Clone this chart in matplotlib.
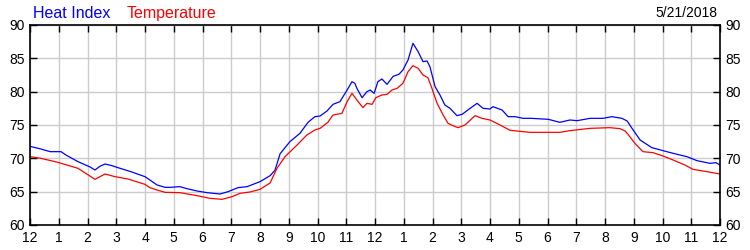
import matplotlib
matplotlib.use("Agg")
import matplotlib.pyplot as plt

plt.rcParams['font.family'] = ['Liberation Sans', 'DejaVu Sans']

# hours since midnight -> readings (deg F)
hi_hours = [0.0, 0.38, 0.70, 1.08, 1.25, 1.67, 2.09, 2.26, 2.43, 2.61, 2.85,
            3.06, 3.51, 4.0, 4.17, 4.42, 4.70, 4.87, 5.22, 5.46, 5.81, 6.16,
            6.61, 6.89, 7.23, 7.55, 8.0, 8.35, 8.52, 8.70, 9.04, 9.39, 9.67,
            9.91, 10.09, 10.33, 10.54, 10.78, 11.03, 11.20, 11.30, 11.37,
            11.55, 11.72, 11.83, 11.97, 12.10, 12.24, 12.42, 12.63, 12.83,
            12.97, 13.15, 13.32, 13.50, 13.67, 13.81, 13.91, 14.09, 14.26,
            14.43, 14.61, 14.85, 15.03, 15.23, 15.55, 15.76, 16.0, 16.10,
            16.42, 16.63, 16.87, 17.15, 17.44, 18.03, 18.43, 18.78, 19.03,
            19.48, 19.93, 20.24, 20.59, 20.77, 20.94, 21.22, 21.63, 22.02,
            22.37, 22.85, 23.20, 23.65, 23.86, 24.0]
hi_vals = [71.8, 71.4, 71.0, 71.0, 70.5, 69.5, 68.7, 68.25, 68.8, 69.15, 68.9,
           68.6, 68.0, 67.25, 66.75, 66.0, 65.65, 65.65, 65.75, 65.45, 65.1,
           64.85, 64.65, 65.0, 65.6, 65.75, 66.5, 67.4, 68.2, 70.7, 72.5,
           73.75, 75.4, 76.25, 76.35, 77.1, 78.1, 78.5, 80.25, 81.5, 81.25,
           80.5, 79.1, 80.0, 80.25, 79.75, 81.5, 81.9, 81.1, 82.3, 82.6,
           83.25, 84.75, 87.25, 86.0, 84.5, 84.6, 83.75, 80.75, 79.5, 78.0,
           77.5, 76.4, 76.6, 77.25, 78.25, 77.5, 77.4, 77.75, 77.25, 76.25,
           76.25, 76.0, 76.0, 75.85, 75.4, 75.75, 75.65, 76.0, 76.0, 76.25,
           76.0, 75.6, 74.5, 72.75, 71.6, 71.15, 70.75, 70.25, 69.65, 69.25,
           69.35, 69.0]

temp_hours = [0.0, 0.38, 0.97, 1.67, 2.26, 2.61, 2.96, 3.41, 4.0, 4.17, 4.42,
              4.70, 5.22, 5.81, 6.26, 6.68, 7.03, 7.30, 7.65, 8.0, 8.35, 8.59,
              8.87, 9.29, 9.63, 9.91, 10.09, 10.36, 10.54, 10.85, 11.03, 11.20,
              11.37, 11.58, 11.72, 11.90, 12.03, 12.24, 12.42, 12.59, 12.77,
              12.97, 13.15, 13.32, 13.50, 13.67, 13.84, 13.98, 14.16, 14.37,
              14.54, 14.71, 14.89, 15.13, 15.48, 15.72, 16.0, 16.35, 16.70,
              17.39, 18.43, 18.78, 19.48, 20.17, 20.52, 20.70, 20.80, 21.04,
              21.32, 21.67, 22.02, 22.37, 22.78, 23.06, 23.55, 24.0]
temp_vals = [70.25, 70.0, 69.4, 68.5, 66.85, 67.65, 67.25, 66.9, 66.1, 65.6,
             65.25, 64.9, 64.85, 64.4, 64.0, 63.85, 64.25, 64.75, 64.95,
             65.35, 66.3, 68.5, 70.25, 72.0, 73.5, 74.25, 74.5, 75.4, 76.5,
             76.75, 78.5, 79.75, 78.75, 77.6, 78.25, 78.1, 79.1, 79.5, 79.6,
             80.25, 80.5, 81.25, 83.0, 83.9, 83.5, 82.5, 82.1, 80.5, 78.25,
             76.5, 75.25, 74.9, 74.6, 75.0, 76.4, 76.0, 75.75, 75.0, 74.2,
             73.9, 73.9, 74.15, 74.5, 74.6, 74.45, 74.1, 73.6, 72.25, 71.0,
             70.85, 70.35, 69.75, 69.0, 68.35, 68.0, 67.65]

hour_labels = ['12', '1', '2', '3', '4', '5', '6', '7', '8', '9', '10', '11',
               '12', '1', '2', '3', '4', '5', '6', '7', '8', '9', '10', '11', '12']
y_ticks = [60, 65, 70, 75, 80, 85, 90]
date_text = '5/21/2018'

fig = plt.figure(figsize=(7.5, 2.5), dpi=100)
ax = fig.add_axes([0.04, 0.10, 0.92, 0.80])

ax.plot(hi_hours, hi_vals, color='#0000ff', lw=0.9)
ax.plot(temp_hours, temp_vals, color='#ff0000', lw=0.9)

ax.set_xlim(0, 24)
ax.set_ylim(60, 90)
ax.set_xticks(range(25))
ax.set_xticklabels(hour_labels)
ax.set_yticks(y_ticks)
ax.grid(True, color='#cccccc', lw=1.0)
ax.set_axisbelow(True)
ax.tick_params(direction='in', length=5, width=1, labelsize=10,
               top=True, right=True, labelright=True, pad=4)
for s in ax.spines.values():
    s.set_linewidth(1.2)

fig.text(0.044, 0.947, 'Heat Index', color='#0000ff', fontsize=11.5, va='center')
fig.text(0.169, 0.947, 'Temperature', color='#ff0000', fontsize=11.5, va='center')
fig.text(0.956, 0.947, date_text, color='black', fontsize=10, va='center', ha='right')

fig.savefig('out.png', dpi=100)
